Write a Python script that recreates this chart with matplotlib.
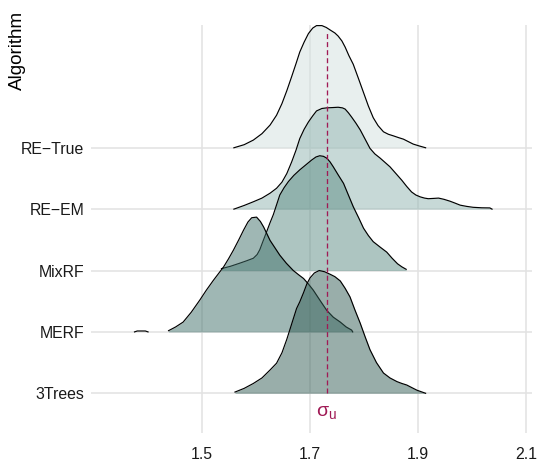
# Ridgeline plot of sigma_u estimates per algorithm
import matplotlib
matplotlib.use("Agg")
import matplotlib.pyplot as plt

plt.rcParams["font.family"] = ["Liberation Sans", "DejaVu Sans"]
plt.rcParams["mathtext.fontset"] = "custom"
plt.rcParams["mathtext.rm"] = "Liberation Sans"
plt.rcParams["mathtext.it"] = "Liberation Sans"
plt.rcParams["lines.scale_dashes"] = False

# categories, bottom to top
algorithms = ["3Trees", "MERF", "MixRF", "RE\u2212EM", "RE\u2212True"]
fill_colors = ["#355F57", "#41716B", "#5D8D85", "#91B5B1", "#D3E1DF"]
sigma_u = 1.732

# density outlines (x, height in ridge units)
trees_x = [1.561, 1.578, 1.595, 1.611, 1.626, 1.638, 1.648, 1.657, 1.666, 1.675, 1.681, 1.688,
           1.694, 1.700, 1.708, 1.717, 1.727, 1.737, 1.746, 1.756, 1.765, 1.774, 1.783, 1.793,
           1.802, 1.811, 1.823, 1.836, 1.848, 1.861, 1.870, 1.879, 1.889, 1.898, 1.914]
trees_h = [0.02, 0.08, 0.16, 0.25, 0.38, 0.49, 0.66, 0.88, 1.13, 1.38, 1.49, 1.64,
           1.78, 1.88, 1.96, 2.00, 1.98, 1.94, 1.90, 1.83, 1.71, 1.57, 1.36, 1.14,
           0.92, 0.71, 0.50, 0.33, 0.25, 0.19, 0.16, 0.135, 0.09, 0.05, 0.0]

merf_x = [1.438, 1.451, 1.465, 1.480, 1.496, 1.508, 1.521, 1.540, 1.549, 1.558, 1.568, 1.577,
          1.585, 1.592, 1.601, 1.608, 1.614, 1.620, 1.626, 1.635, 1.644, 1.656, 1.669, 1.679,
          1.688, 1.697, 1.706, 1.718, 1.731, 1.743, 1.756, 1.767, 1.777, 1.779]
merf_h = [0.02, 0.08, 0.16, 0.32, 0.52, 0.68, 0.84, 1.06, 1.19, 1.33, 1.50, 1.66,
          1.79, 1.86, 1.87, 1.80, 1.71, 1.60, 1.49, 1.37, 1.25, 1.12, 1.00, 0.93,
          0.87, 0.78, 0.68, 0.52, 0.35, 0.24, 0.16, 0.08, 0.03, 0.0]
merf_out_x = [1.375, 1.380, 1.395, 1.400]
merf_out_h = [0.0, 0.015, 0.015, 0.0]

mixrf_x = [1.536, 1.553, 1.570, 1.583, 1.595, 1.602, 1.607, 1.613, 1.620, 1.626, 1.632, 1.638,
           1.644, 1.652, 1.660, 1.670, 1.681, 1.692, 1.703, 1.711, 1.718, 1.725, 1.731, 1.737,
           1.743, 1.752, 1.762, 1.771, 1.780, 1.790, 1.799, 1.808, 1.817, 1.830, 1.842, 1.852,
           1.862, 1.870, 1.878]
mixrf_h = [0.03, 0.07, 0.12, 0.16, 0.20, 0.26, 0.34, 0.48, 0.64, 0.78, 0.91, 1.07,
           1.23, 1.35, 1.45, 1.55, 1.64, 1.72, 1.80, 1.85, 1.87, 1.86, 1.83, 1.77,
           1.69, 1.56, 1.42, 1.23, 1.04, 0.86, 0.69, 0.57, 0.47, 0.38, 0.30, 0.20,
           0.11, 0.06, 0.02]

reem_x = [1.559, 1.578, 1.595, 1.611, 1.626, 1.638, 1.648, 1.657, 1.666, 1.674, 1.681, 1.689,
          1.697, 1.705, 1.712, 1.722, 1.731, 1.742, 1.752, 1.760, 1.765, 1.771, 1.777, 1.785,
          1.793, 1.802, 1.811, 1.820, 1.830, 1.839, 1.848, 1.859, 1.870, 1.879, 1.888, 1.896,
          1.904, 1.912, 1.919, 1.929, 1.938, 1.948, 1.959, 1.968, 1.978, 1.990, 2.002, 2.018,
          2.033, 2.037]
reem_h = [0.0, 0.06, 0.12, 0.18, 0.26, 0.34, 0.44, 0.58, 0.77, 0.96, 1.15, 1.30,
          1.42, 1.52, 1.60, 1.64, 1.65, 1.655, 1.66, 1.65, 1.63, 1.57, 1.50, 1.40,
          1.29, 1.14, 0.99, 0.90, 0.83, 0.76, 0.69, 0.58, 0.47, 0.37, 0.28, 0.23,
          0.20, 0.18, 0.17, 0.175, 0.18, 0.16, 0.13, 0.10, 0.065, 0.045, 0.03, 0.022,
          0.02, 0.0]

retrue_x = [1.559, 1.578, 1.595, 1.611, 1.626, 1.638, 1.648, 1.657, 1.666, 1.674, 1.681, 1.689,
            1.697, 1.705, 1.712, 1.722, 1.730, 1.737, 1.746, 1.752, 1.759, 1.765, 1.772, 1.780,
            1.790, 1.799, 1.808, 1.817, 1.826, 1.836, 1.845, 1.854, 1.864, 1.873, 1.882, 1.891,
            1.902, 1.914]
retrue_h = [0.0, 0.05, 0.125, 0.23, 0.37, 0.53, 0.72, 0.93, 1.16, 1.37, 1.56, 1.72,
            1.86, 1.95, 1.99, 1.99, 1.96, 1.92, 1.87, 1.82, 1.74, 1.64, 1.50, 1.36,
            1.12, 0.90, 0.68, 0.49, 0.36, 0.26, 0.22, 0.195, 0.165, 0.14, 0.10, 0.06,
            0.03, 0.0]

ridges_x = [trees_x, merf_x, mixrf_x, reem_x, retrue_x]
ridges_h = [trees_h, merf_h, mixrf_h, reem_h, retrue_h]

fig = plt.figure(figsize=(5.42, 4.61), dpi=100)
ax = fig.add_axes([91 / 542, 28 / 461, 441 / 542, 408 / 461])

# draw top ridge first so the lower ones sit on top
for i in range(len(algorithms) - 1, -1, -1):
    base = i + 1
    top = [base + h for h in ridges_h[i]]
    z = 10 + (len(algorithms) - i) * 2
    ax.fill_between(ridges_x[i], base, top, color=fill_colors[i], alpha=0.5,
                    linewidth=0, zorder=z)
    ax.plot(ridges_x[i], top, color="black", linewidth=0.85, zorder=z + 1)
    if i == 1:
        top_out = [base + h for h in merf_out_h]
        ax.plot(merf_out_x, top_out, color="black", linewidth=0.85, zorder=z + 1)

ax.plot([sigma_u, sigma_u], [1, 6.89], color="#A01A55", linewidth=0.95,
        linestyle=(0, (3.6, 2.2)), zorder=30)
ax.text(sigma_u - 0.002, 0.68, r"$\sigma_\mathrm{u}$", color="#A01A55", fontsize=14,
        ha="center", va="center", zorder=30)

ax.set_xlim(1.2944, 2.111)
ax.set_ylim(0.353, 7.0)
ax.set_xticks([1.5, 1.7, 1.9, 2.1])
ax.set_xticklabels(["1.5", "1.7", "1.9", "2.1"])
ax.set_yticks(range(1, len(algorithms) + 1))
ax.set_yticklabels(algorithms)
ax.tick_params(length=0, labelsize=11.4, colors="#1A1A1A")
ax.tick_params(axis="x", pad=10)
ax.tick_params(axis="y", pad=5)
ax.grid(True, color="#E2E2E2", linewidth=1.1)
ax.set_axisbelow(True)
for s in ax.spines.values():
    s.set_visible(False)

fig.text(17 / 542, 1 - 11 / 461, "Algorithm", rotation=90, ha="center", va="top",
         fontsize=13.6, color="black")

fig.savefig("out.png", dpi=100)
